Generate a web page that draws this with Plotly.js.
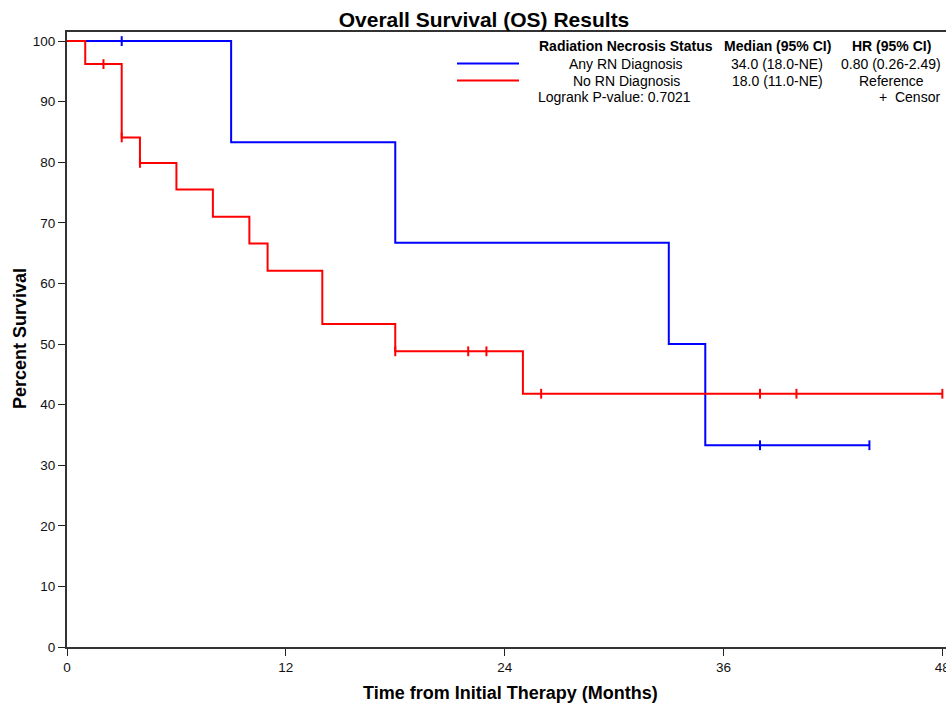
<!DOCTYPE html>
<html>
<head>
<meta charset="utf-8">
<script src="https://cdn.plot.ly/plotly-3.0.1.min.js"></script>
<style>html,body{margin:0;padding:0;background:#fff;}#chart{width:946px;height:704px;}</style>
</head>
<body>
<div id="chart"></div>
<script>
// ---- Data ----
const anyRN_time = [0, 9, 18, 33, 35, 44];
const anyRN_surv = [100, 83.3, 66.7, 50.0, 33.3, 33.3];
const anyRN_censor_time = [3, 38, 44];
const anyRN_censor_surv = [100, 33.3, 33.3];

const noRN_time = [0, 1, 3, 4, 6, 8, 10, 11, 14, 18, 25, 48];
const noRN_surv = [100, 96.2, 84.1, 79.9, 75.5, 71.0, 66.6, 62.1, 53.3, 48.8, 41.8, 41.8];
const noRN_censor_time = [2, 3, 4, 18, 22, 23, 26, 38, 40, 48];
const noRN_censor_surv = [96.2, 84.1, 79.9, 48.8, 48.8, 48.8, 41.8, 41.8, 41.8, 41.8];

const xTicks = [0, 12, 24, 36, 48];
const yTicks = [0, 10, 20, 30, 40, 50, 60, 70, 80, 90, 100];

const legendHeaders = ["Radiation Necrosis Status", "Median (95% CI)", "HR (95% CI)"];
const legendRow1 = ["Any RN Diagnosis", "34.0 (18.0-NE)", "0.80 (0.26-2.49)"];
const legendRow2 = ["No RN Diagnosis", "18.0 (11.0-NE)", "Reference"];
const pValueText = "Logrank P-value: 0.7021";
const censorText = "+  Censor";

const BLUE = "#0000ff";
const RED = "#ff0000";
const FONT = "Liberation Sans, Arial, sans-serif";

// ---- layout geometry (pixels) ----
const W = 946, H = 704;
const L = 67, R = 0, T = 32, B = 57;
const PW = W - L - R, PH = H - T - B;
const px = v => (v - L) / PW;          // pixel x -> paper x
const py = v => (H - B - v) / PH;      // pixel y -> paper y

const traces = [
  {x: anyRN_time, y: anyRN_surv, type: "scatter", mode: "lines",
   line: {shape: "hv", color: BLUE, width: 2}, hoverinfo: "skip"},
  {x: anyRN_censor_time, y: anyRN_censor_surv, type: "scatter", mode: "markers",
   marker: {symbol: "line-ns-open", size: 7, color: BLUE, line: {color: BLUE, width: 2}}, hoverinfo: "skip"},
  {x: noRN_time, y: noRN_surv, type: "scatter", mode: "lines",
   line: {shape: "hv", color: RED, width: 2}, hoverinfo: "skip"},
  {x: noRN_censor_time, y: noRN_censor_surv, type: "scatter", mode: "markers",
   marker: {symbol: "line-ns-open", size: 7, color: RED, line: {color: RED, width: 2}}, hoverinfo: "skip"}
];

const ann = [];
function txt(text, xpx, ypx, opts) {
  ann.push(Object.assign({
    text: text, xref: "paper", yref: "paper", x: px(xpx), y: py(ypx),
    xanchor: "center", yanchor: "middle", showarrow: false,
    font: {family: FONT, size: 14, color: "#000"}
  }, opts || {}));
}
const colX = [626, 777, 891];
legendHeaders.forEach((t, i) => txt("<b>" + t + "</b>", colX[i], 46.5));
legendRow1.forEach((t, i) => txt(t, colX[i], 63.5));
legendRow2.forEach((t, i) => txt(t, colX[i], 80.5));
txt(pValueText, 536, 97.5, {xanchor: "left"});
txt(censorText, 942, 97.5, {xanchor: "right"});

// axis titles
txt("<b>Time from Initial Therapy (Months)</b>", 510, 693, {font: {family: FONT, size: 18, color: "#000"}});
txt("<b>Percent Survival</b>", 20, 339, {textangle: -90, font: {family: FONT, size: 18, color: "#000"}});

const shapes = [
  {type: "line", xref: "paper", yref: "paper", x0: px(457), x1: px(519), y0: py(63.5), y1: py(63.5),
   line: {color: BLUE, width: 2}},
  {type: "line", xref: "paper", yref: "paper", x0: px(457), x1: px(519), y0: py(80.5), y1: py(80.5),
   line: {color: RED, width: 2}}
];

const layout = {
  width: W, height: H,
  margin: {l: L, r: R, t: T, b: B, pad: 0},
  paper_bgcolor: "#fff", plot_bgcolor: "#fff",
  showlegend: false,
  title: {text: "<b>Overall Survival (OS) Results</b>", x: 484 / W, xref: "container", xanchor: "center",
          y: 1 - 19.5 / H, yref: "container", yanchor: "middle",
          font: {family: FONT, size: 21, color: "#000"}},
  xaxis: {range: [0, 48.2], tickvals: xTicks, ticktext: xTicks.map(String),
          showgrid: false, zeroline: false, showline: true, linecolor: "#333", linewidth: 2,
          mirror: true, ticks: "outside", ticklen: 7, tickwidth: 1, tickcolor: "#222",
          ticklabeloverflow: "allow",
          tickfont: {family: FONT, size: 13.5, color: "#111"}, fixedrange: true},
  yaxis: {range: [0, 101.5], tickvals: yTicks, ticktext: yTicks.map(String),
          showgrid: false, zeroline: false, showline: true, linecolor: "#333", linewidth: 2,
          ticks: "outside", ticklen: 7, tickwidth: 1, tickcolor: "#222",
          tickfont: {family: FONT, size: 13.5, color: "#111"}, fixedrange: true},
  annotations: ann,
  shapes: shapes
};

Plotly.newPlot("chart", traces, layout, {staticPlot: true, displayModeBar: false});
</script>
</body>
</html>
